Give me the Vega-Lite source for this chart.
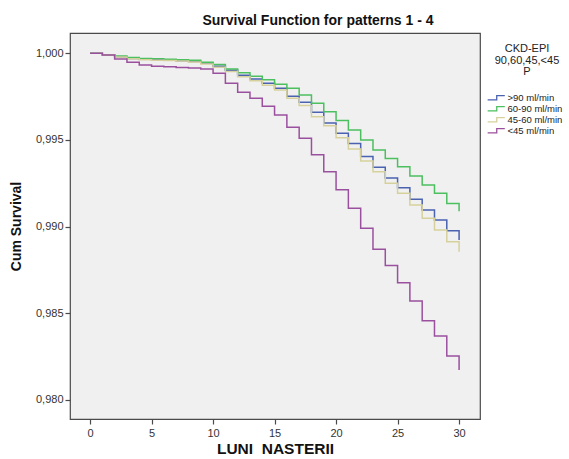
{
  "$schema": "https://vega.github.io/schema/vega-lite/v6.json",
  "width": 410,
  "height": 386,
  "autosize": {"type": "none"},
  "padding": {"left": 70, "top": 33, "right": 89, "bottom": 40},
  "background": "#ffffff",
  "config": {
    "font": "Liberation Sans",
    "view": {"fill": "#f0f0f0", "stroke": "#4a4a4a", "strokeWidth": 1.2}
  },
  "title": {
    "text": "Survival Function for patterns 1 - 4",
    "fontSize": 14,
    "fontWeight": "bold",
    "color": "#111111",
    "anchor": "middle",
    "frame": "group",
    "dx": 43,
    "offset": 5
  },
  "data": {
    "values": [
      {"group": ">90 ml/min", "month": 0, "survival": 1.0},
      {"group": ">90 ml/min", "month": 1, "survival": 0.9999},
      {"group": ">90 ml/min", "month": 2, "survival": 0.9998},
      {"group": ">90 ml/min", "month": 3, "survival": 0.9997},
      {"group": ">90 ml/min", "month": 4, "survival": 0.99965},
      {"group": ">90 ml/min", "month": 5, "survival": 0.99962},
      {"group": ">90 ml/min", "month": 6, "survival": 0.9996},
      {"group": ">90 ml/min", "month": 7, "survival": 0.99957},
      {"group": ">90 ml/min", "month": 8, "survival": 0.99953},
      {"group": ">90 ml/min", "month": 9, "survival": 0.99942},
      {"group": ">90 ml/min", "month": 10, "survival": 0.99925},
      {"group": ">90 ml/min", "month": 11, "survival": 0.99902},
      {"group": ">90 ml/min", "month": 12, "survival": 0.99873},
      {"group": ">90 ml/min", "month": 13, "survival": 0.99852},
      {"group": ">90 ml/min", "month": 14, "survival": 0.99827},
      {"group": ">90 ml/min", "month": 15, "survival": 0.99798},
      {"group": ">90 ml/min", "month": 16, "survival": 0.99752},
      {"group": ">90 ml/min", "month": 17, "survival": 0.99718},
      {"group": ">90 ml/min", "month": 18, "survival": 0.9966},
      {"group": ">90 ml/min", "month": 19, "survival": 0.99598},
      {"group": ">90 ml/min", "month": 20, "survival": 0.99538},
      {"group": ">90 ml/min", "month": 21, "survival": 0.9948},
      {"group": ">90 ml/min", "month": 22, "survival": 0.99405},
      {"group": ">90 ml/min", "month": 23, "survival": 0.99342},
      {"group": ">90 ml/min", "month": 24, "survival": 0.99281},
      {"group": ">90 ml/min", "month": 25, "survival": 0.99224},
      {"group": ">90 ml/min", "month": 26, "survival": 0.99158},
      {"group": ">90 ml/min", "month": 27, "survival": 0.99096},
      {"group": ">90 ml/min", "month": 28, "survival": 0.99038},
      {"group": ">90 ml/min", "month": 29, "survival": 0.98976},
      {"group": ">90 ml/min", "month": 30, "survival": 0.98923},
      {"group": "60-90 ml/min", "month": 0, "survival": 1.0},
      {"group": "60-90 ml/min", "month": 1, "survival": 0.9999},
      {"group": "60-90 ml/min", "month": 2, "survival": 0.99984},
      {"group": "60-90 ml/min", "month": 3, "survival": 0.99975},
      {"group": "60-90 ml/min", "month": 4, "survival": 0.9997},
      {"group": "60-90 ml/min", "month": 5, "survival": 0.99968},
      {"group": "60-90 ml/min", "month": 6, "survival": 0.99966},
      {"group": "60-90 ml/min", "month": 7, "survival": 0.99963},
      {"group": "60-90 ml/min", "month": 8, "survival": 0.9996},
      {"group": "60-90 ml/min", "month": 9, "survival": 0.99948},
      {"group": "60-90 ml/min", "month": 10, "survival": 0.99935},
      {"group": "60-90 ml/min", "month": 11, "survival": 0.99909},
      {"group": "60-90 ml/min", "month": 12, "survival": 0.99887},
      {"group": "60-90 ml/min", "month": 13, "survival": 0.99868},
      {"group": "60-90 ml/min", "month": 14, "survival": 0.99848},
      {"group": "60-90 ml/min", "month": 15, "survival": 0.99821},
      {"group": "60-90 ml/min", "month": 16, "survival": 0.99798},
      {"group": "60-90 ml/min", "month": 17, "survival": 0.99759},
      {"group": "60-90 ml/min", "month": 18, "survival": 0.99711},
      {"group": "60-90 ml/min", "month": 19, "survival": 0.99663},
      {"group": "60-90 ml/min", "month": 20, "survival": 0.99612},
      {"group": "60-90 ml/min", "month": 21, "survival": 0.99557},
      {"group": "60-90 ml/min", "month": 22, "survival": 0.995},
      {"group": "60-90 ml/min", "month": 23, "survival": 0.99442},
      {"group": "60-90 ml/min", "month": 24, "survival": 0.99393},
      {"group": "60-90 ml/min", "month": 25, "survival": 0.99346},
      {"group": "60-90 ml/min", "month": 26, "survival": 0.99292},
      {"group": "60-90 ml/min", "month": 27, "survival": 0.9924},
      {"group": "60-90 ml/min", "month": 28, "survival": 0.99192},
      {"group": "60-90 ml/min", "month": 29, "survival": 0.99134},
      {"group": "60-90 ml/min", "month": 30, "survival": 0.99088},
      {"group": "45-60 ml/min", "month": 0, "survival": 1.0},
      {"group": "45-60 ml/min", "month": 1, "survival": 0.9999},
      {"group": "45-60 ml/min", "month": 2, "survival": 0.99978},
      {"group": "45-60 ml/min", "month": 3, "survival": 0.99968},
      {"group": "45-60 ml/min", "month": 4, "survival": 0.99962},
      {"group": "45-60 ml/min", "month": 5, "survival": 0.9996},
      {"group": "45-60 ml/min", "month": 6, "survival": 0.99958},
      {"group": "45-60 ml/min", "month": 7, "survival": 0.99955},
      {"group": "45-60 ml/min", "month": 8, "survival": 0.9995},
      {"group": "45-60 ml/min", "month": 9, "survival": 0.99938},
      {"group": "45-60 ml/min", "month": 10, "survival": 0.9992},
      {"group": "45-60 ml/min", "month": 11, "survival": 0.99895},
      {"group": "45-60 ml/min", "month": 12, "survival": 0.99865},
      {"group": "45-60 ml/min", "month": 13, "survival": 0.99842},
      {"group": "45-60 ml/min", "month": 14, "survival": 0.99815},
      {"group": "45-60 ml/min", "month": 15, "survival": 0.99788},
      {"group": "45-60 ml/min", "month": 16, "survival": 0.9974},
      {"group": "45-60 ml/min", "month": 17, "survival": 0.99698},
      {"group": "45-60 ml/min", "month": 18, "survival": 0.99634},
      {"group": "45-60 ml/min", "month": 19, "survival": 0.99582},
      {"group": "45-60 ml/min", "month": 20, "survival": 0.99513},
      {"group": "45-60 ml/min", "month": 21, "survival": 0.99448},
      {"group": "45-60 ml/min", "month": 22, "survival": 0.99378},
      {"group": "45-60 ml/min", "month": 23, "survival": 0.99317},
      {"group": "45-60 ml/min", "month": 24, "survival": 0.9925},
      {"group": "45-60 ml/min", "month": 25, "survival": 0.99192},
      {"group": "45-60 ml/min", "month": 26, "survival": 0.99125},
      {"group": "45-60 ml/min", "month": 27, "survival": 0.99048},
      {"group": "45-60 ml/min", "month": 28, "survival": 0.9898},
      {"group": "45-60 ml/min", "month": 29, "survival": 0.98913},
      {"group": "45-60 ml/min", "month": 30, "survival": 0.98855},
      {"group": "<45 ml/min", "month": 0, "survival": 1.0},
      {"group": "<45 ml/min", "month": 1, "survival": 0.9999},
      {"group": "<45 ml/min", "month": 2, "survival": 0.99967},
      {"group": "<45 ml/min", "month": 3, "survival": 0.99948},
      {"group": "<45 ml/min", "month": 4, "survival": 0.99932},
      {"group": "<45 ml/min", "month": 5, "survival": 0.99925},
      {"group": "<45 ml/min", "month": 6, "survival": 0.99922},
      {"group": "<45 ml/min", "month": 7, "survival": 0.99918},
      {"group": "<45 ml/min", "month": 8, "survival": 0.99915},
      {"group": "<45 ml/min", "month": 9, "survival": 0.9991},
      {"group": "<45 ml/min", "month": 10, "survival": 0.99885},
      {"group": "<45 ml/min", "month": 11, "survival": 0.99827},
      {"group": "<45 ml/min", "month": 12, "survival": 0.99775},
      {"group": "<45 ml/min", "month": 13, "survival": 0.9974},
      {"group": "<45 ml/min", "month": 14, "survival": 0.99694},
      {"group": "<45 ml/min", "month": 15, "survival": 0.99644},
      {"group": "<45 ml/min", "month": 16, "survival": 0.99573},
      {"group": "<45 ml/min", "month": 17, "survival": 0.9951},
      {"group": "<45 ml/min", "month": 18, "survival": 0.99414},
      {"group": "<45 ml/min", "month": 19, "survival": 0.99317},
      {"group": "<45 ml/min", "month": 20, "survival": 0.99212},
      {"group": "<45 ml/min", "month": 21, "survival": 0.99106},
      {"group": "<45 ml/min", "month": 22, "survival": 0.9899},
      {"group": "<45 ml/min", "month": 23, "survival": 0.98869},
      {"group": "<45 ml/min", "month": 24, "survival": 0.98775},
      {"group": "<45 ml/min", "month": 25, "survival": 0.98676},
      {"group": "<45 ml/min", "month": 26, "survival": 0.98571},
      {"group": "<45 ml/min", "month": 27, "survival": 0.98457},
      {"group": "<45 ml/min", "month": 28, "survival": 0.98369},
      {"group": "<45 ml/min", "month": 29, "survival": 0.98253},
      {"group": "<45 ml/min", "month": 30, "survival": 0.98173}
    ]
  },
  "mark": {"type": "line", "interpolate": "step-after", "strokeWidth": 1.5},
  "encoding": {
    "x": {
      "field": "month",
      "type": "quantitative",
      "scale": {"domain": [-1.63, 31.7], "nice": false, "zero": false},
      "axis": {
        "title": "LUNI \u00a0NASTERII",
        "titleFontSize": 15.5,
        "titleFontWeight": "bold",
        "titleColor": "#111111",
        "titlePadding": 3,
        "values": [0, 5, 10, 15, 20, 25, 30],
        "domain": false,
        "grid": false,
        "ticks": true,
        "tickSize": 5,
        "tickColor": "#4a4a4a",
        "tickWidth": 1.2,
        "labelFontSize": 11,
        "labelColor": "#333333",
        "labelPadding": 3
      }
    },
    "y": {
      "field": "survival",
      "type": "quantitative",
      "scale": {"domain": [0.9789, 1.00117], "nice": false, "zero": false},
      "axis": {
        "title": "Cum Survival",
        "titleFontSize": 14,
        "titleFontWeight": "bold",
        "titleColor": "#111111",
        "titlePadding": 12,
        "values": [0.98, 0.985, 0.99, 0.995, 1.0],
        "labelExpr": "replace(format(datum.value, '.3f'), '.', ',')",
        "domain": false,
        "grid": false,
        "tickSize": 5,
        "tickColor": "#4a4a4a",
        "tickWidth": 1.2,
        "labelFontSize": 11,
        "labelColor": "#333333",
        "labelPadding": 2
      }
    },
    "color": {
      "field": "group",
      "type": "nominal",
      "scale": {
        "domain": [">90 ml/min", "60-90 ml/min", "45-60 ml/min", "<45 ml/min"],
        "range": ["#4a62b0", "#4cbf5f", "#d6d19c", "#9a509e"]
      },
      "legend": {
        "title": ["CKD-EPI", "90,60,45,<45", "P"],
        "orient": "none",
        "legendX": 422,
        "legendY": 10,
        "padding": 0,
        "titleFontSize": 11,
        "titleFontWeight": "normal",
        "titleColor": "#222222",
        "titleLineHeight": 11.5,
        "titleAnchor": "middle",
        "titleAlign": "center",
        "titlePadding": 16,
        "symbolType": "M-2.6,0.6H0V-0.6H2.3",
        "symbolSize": 49,
        "symbolStrokeWidth": 1.3,
        "symbolFillColor": "transparent",
        "labelFontSize": 9.5,
        "labelColor": "#222222",
        "labelOffset": 6,
        "labelExpr": "datum.label + '\u00a0\u00a0\u00a0\u00a0\u00a0\u00a0\u00a0'",
        "rowPadding": 0
      }
    }
  }
}
